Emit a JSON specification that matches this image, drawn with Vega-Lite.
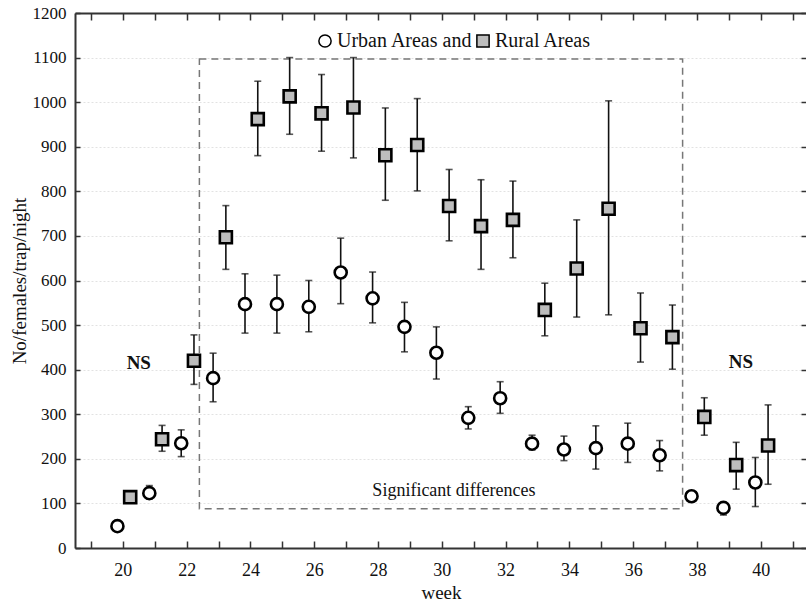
{
  "$schema": "https://vega.github.io/schema/vega-lite/v6.json",
  "width": 732,
  "height": 535,
  "autosize": {"type": "none"},
  "padding": {"left": 75, "top": 13, "right": 0, "bottom": 57},
  "background": "white",
  "config": {
    "view": {"stroke": null},
    "font": "Liberation Serif",
    "axis": {
      "labelFont": "Liberation Serif",
      "titleFont": "Liberation Serif",
      "labelFontSize": 18,
      "titleFontSize": 19,
      "titleFontWeight": "normal",
      "labelColor": "#111",
      "titleColor": "#111",
      "domainColor": "#333",
      "domainWidth": 2,
      "tickColor": "#333",
      "tickWidth": 1.5
    },
    "legend": {
      "labelFont": "Liberation Serif",
      "labelFontSize": 20,
      "labelColor": "#111"
    }
  },
  "datasets": {
    "obs": [
      {"x": 19.83, "area": "Urban Areas and", "mean": 49, "lo": null, "hi": null},
      {"x": 20.83, "area": "Urban Areas and", "mean": 123, "lo": 110, "hi": 140},
      {"x": 21.83, "area": "Urban Areas and", "mean": 235, "lo": 205, "hi": 265},
      {"x": 22.83, "area": "Urban Areas and", "mean": 381, "lo": 328, "hi": 437},
      {"x": 23.83, "area": "Urban Areas and", "mean": 547, "lo": 482, "hi": 615},
      {"x": 24.83, "area": "Urban Areas and", "mean": 547, "lo": 482, "hi": 612},
      {"x": 25.83, "area": "Urban Areas and", "mean": 541, "lo": 485, "hi": 600},
      {"x": 26.83, "area": "Urban Areas and", "mean": 618, "lo": 548, "hi": 695},
      {"x": 27.83, "area": "Urban Areas and", "mean": 560, "lo": 505, "hi": 619},
      {"x": 28.83, "area": "Urban Areas and", "mean": 496, "lo": 440, "hi": 551},
      {"x": 29.83, "area": "Urban Areas and", "mean": 438, "lo": 379, "hi": 496},
      {"x": 30.83, "area": "Urban Areas and", "mean": 292, "lo": 267, "hi": 317},
      {"x": 31.83, "area": "Urban Areas and", "mean": 336, "lo": 302, "hi": 373},
      {"x": 32.83, "area": "Urban Areas and", "mean": 234, "lo": 220, "hi": 253},
      {"x": 33.83, "area": "Urban Areas and", "mean": 221, "lo": 196, "hi": 251},
      {"x": 34.83, "area": "Urban Areas and", "mean": 224, "lo": 177, "hi": 274},
      {"x": 35.83, "area": "Urban Areas and", "mean": 234, "lo": 192, "hi": 280},
      {"x": 36.83, "area": "Urban Areas and", "mean": 208, "lo": 173, "hi": 241},
      {"x": 37.83, "area": "Urban Areas and", "mean": 116, "lo": null, "hi": null},
      {"x": 38.83, "area": "Urban Areas and", "mean": 90, "lo": 74, "hi": 100},
      {"x": 39.83, "area": "Urban Areas and", "mean": 147, "lo": 93, "hi": 203},
      {"x": 20.23, "area": "Rural Areas", "mean": 114, "lo": null, "hi": null},
      {"x": 21.23, "area": "Rural Areas", "mean": 244, "lo": 217, "hi": 275},
      {"x": 22.23, "area": "Rural Areas", "mean": 420, "lo": 367, "hi": 478},
      {"x": 23.23, "area": "Rural Areas", "mean": 697, "lo": 625, "hi": 768},
      {"x": 24.23, "area": "Rural Areas", "mean": 962, "lo": 880, "hi": 1047},
      {"x": 25.23, "area": "Rural Areas", "mean": 1013, "lo": 928, "hi": 1100},
      {"x": 26.23, "area": "Rural Areas", "mean": 975, "lo": 890, "hi": 1062},
      {"x": 27.23, "area": "Rural Areas", "mean": 988, "lo": 875, "hi": 1100},
      {"x": 28.23, "area": "Rural Areas", "mean": 881, "lo": 780, "hi": 987},
      {"x": 29.23, "area": "Rural Areas", "mean": 904, "lo": 801, "hi": 1008},
      {"x": 30.23, "area": "Rural Areas", "mean": 767, "lo": 689, "hi": 849},
      {"x": 31.23, "area": "Rural Areas", "mean": 722, "lo": 625, "hi": 826},
      {"x": 32.23, "area": "Rural Areas", "mean": 736, "lo": 651, "hi": 823},
      {"x": 33.23, "area": "Rural Areas", "mean": 534, "lo": 476, "hi": 594},
      {"x": 34.23, "area": "Rural Areas", "mean": 627, "lo": 518, "hi": 736},
      {"x": 35.23, "area": "Rural Areas", "mean": 761, "lo": 523, "hi": 1003},
      {"x": 36.23, "area": "Rural Areas", "mean": 493, "lo": 417, "hi": 572},
      {"x": 37.23, "area": "Rural Areas", "mean": 473, "lo": 401, "hi": 545},
      {"x": 38.23, "area": "Rural Areas", "mean": 294, "lo": 253, "hi": 337},
      {"x": 39.23, "area": "Rural Areas", "mean": 186, "lo": 132, "hi": 237},
      {"x": 40.23, "area": "Rural Areas", "mean": 230, "lo": 143, "hi": 321}
    ],
    "box": [{"x1": 22.4, "x2": 37.55, "y1": 88, "y2": 1097}],
    "notes": [
      {"x": 20.5, "y": 415, "label": "NS"},
      {"x": 39.38, "y": 418, "label": "NS"},
      {"x": 30.38, "y": 128, "label": "Significant differences"}
    ]
  },
  "layer": [
    {
      "data": {"name": "box"},
      "mark": {"type": "rect", "fill": null, "stroke": "#777", "strokeWidth": 1.5, "strokeDash": [7, 5]},
      "encoding": {
        "x": {"field": "x1", "type": "quantitative", "scale": {"domain": [18.5, 41.45], "nice": false, "zero": false},
          "axis": {"orient": "top", "labels": false, "title": null, "grid": false, "values": [19,20,21,22,23,24,25,26,27,28,29,30,31,32,33,34,35,36,37,38,39,40,41], "tickSize": -7, "domain": true}},
        "x2": {"field": "x2"},
        "y": {"field": "y1", "type": "quantitative", "scale": {"domain": [0, 1200], "nice": false},
          "axis": {"orient": "right", "labels": false, "title": null, "grid": false, "values": [0,100,200,300,400,500,600,700,800,900,1000,1100,1200], "tickSize": -6, "domain": true}},
        "y2": {"field": "y2"}
      }
    },
    {
      "data": {"name": "obs"},
      "transform": [{"filter": "datum.lo != null"}],
      "mark": {"type": "rule", "color": "#111", "strokeWidth": 1.6},
      "encoding": {
        "x": {"field": "x", "type": "quantitative", "scale": {"domain": [18.5, 41.45], "nice": false, "zero": false}, "axis": null},
        "y": {"field": "lo", "type": "quantitative", "scale": {"domain": [0, 1200], "nice": false}, "axis": null},
        "y2": {"field": "hi"}
      }
    },
    {
      "data": {"name": "obs"},
      "transform": [{"filter": "datum.lo != null"}],
      "mark": {"type": "tick", "orient": "horizontal", "color": "#111", "size": 7, "thickness": 1.6},
      "encoding": {
        "x": {"field": "x", "type": "quantitative", "scale": {"domain": [18.5, 41.45], "nice": false, "zero": false}, "axis": null},
        "y": {"field": "lo", "type": "quantitative", "scale": {"domain": [0, 1200], "nice": false}, "axis": null}
      }
    },
    {
      "data": {"name": "obs"},
      "transform": [{"filter": "datum.hi != null"}],
      "mark": {"type": "tick", "orient": "horizontal", "color": "#111", "size": 7, "thickness": 1.6},
      "encoding": {
        "x": {"field": "x", "type": "quantitative", "scale": {"domain": [18.5, 41.45], "nice": false, "zero": false}, "axis": null},
        "y": {"field": "hi", "type": "quantitative", "scale": {"domain": [0, 1200], "nice": false}, "axis": null}
      }
    },
    {
      "data": {"name": "obs"},
      "mark": {"type": "point", "filled": true, "stroke": "black", "strokeWidth": 2.6, "size": 145, "opacity": 1},
      "encoding": {
        "x": {"field": "x", "type": "quantitative", "scale": {"domain": [18.5, 41.45], "nice": false, "zero": false},
          "axis": {"orient": "bottom", "title": "week", "grid": false, "values": [19,20,21,22,23,24,25,26,27,28,29,30,31,32,33,34,35,36,37,38,39,40,41],
            "labelExpr": "datum.value % 2 == 0 ? datum.label : ''", "tickSize": -7, "labelPadding": 20, "titlePadding": 4, "labelFlush": false,
            "labelFontSize": 18, "titleFontSize": 19}},
        "y": {"field": "mean", "type": "quantitative", "scale": {"domain": [0, 1200], "nice": false},
          "axis": {"orient": "left", "title": "No/females/trap/night", "grid": true, "gridColor": "#e2e2e2", "gridDash": [2, 2], "gridWidth": 1,
            "values": [0,100,200,300,400,500,600,700,800,900,1000,1100,1200], "format": "d", "tickSize": -5, "labelPadding": 14, "titlePadding": 3,
            "labelFontSize": 17, "titleFontSize": 19}},
        "shape": {"field": "area", "type": "nominal", "scale": {"domain": ["Urban Areas and", "Rural Areas"], "range": ["circle", "square"]},
          "legend": {"orient": "none", "legendX": 240, "legendY": 18, "direction": "horizontal", "title": null,
            "labelFont": "Liberation Serif", "labelFontSize": 20, "labelColor": "#111",
            "symbolSize": 150, "labelOffset": 2, "columnPadding": -6,
            "encode": {"symbols": {"update": {"stroke": {"value": "black"}, "strokeWidth": {"value": 2.6}}}}}},
        "fill": {"field": "area", "type": "nominal", "scale": {"domain": ["Urban Areas and", "Rural Areas"], "range": ["white", "#bdbdbd"]}}
      }
    },
    {
      "data": {"name": "notes"},
      "transform": [{"filter": "datum.label == 'NS'"}],
      "mark": {"type": "text", "font": "Liberation Serif", "fontSize": 19, "fontWeight": "bold", "color": "#111"},
      "encoding": {
        "x": {"field": "x", "type": "quantitative", "scale": {"domain": [18.5, 41.45], "nice": false, "zero": false}, "axis": null},
        "y": {"field": "y", "type": "quantitative", "scale": {"domain": [0, 1200], "nice": false}, "axis": null},
        "text": {"field": "label"}
      }
    },
    {
      "data": {"name": "notes"},
      "transform": [{"filter": "datum.label != 'NS'"}],
      "mark": {"type": "text", "font": "Liberation Serif", "fontSize": 18, "color": "#111"},
      "encoding": {
        "x": {"field": "x", "type": "quantitative", "scale": {"domain": [18.5, 41.45], "nice": false, "zero": false}, "axis": null},
        "y": {"field": "y", "type": "quantitative", "scale": {"domain": [0, 1200], "nice": false}, "axis": null},
        "text": {"field": "label"}
      }
    }
  ],
  "resolve": {"axis": {"x": "independent", "y": "independent"}}
}
